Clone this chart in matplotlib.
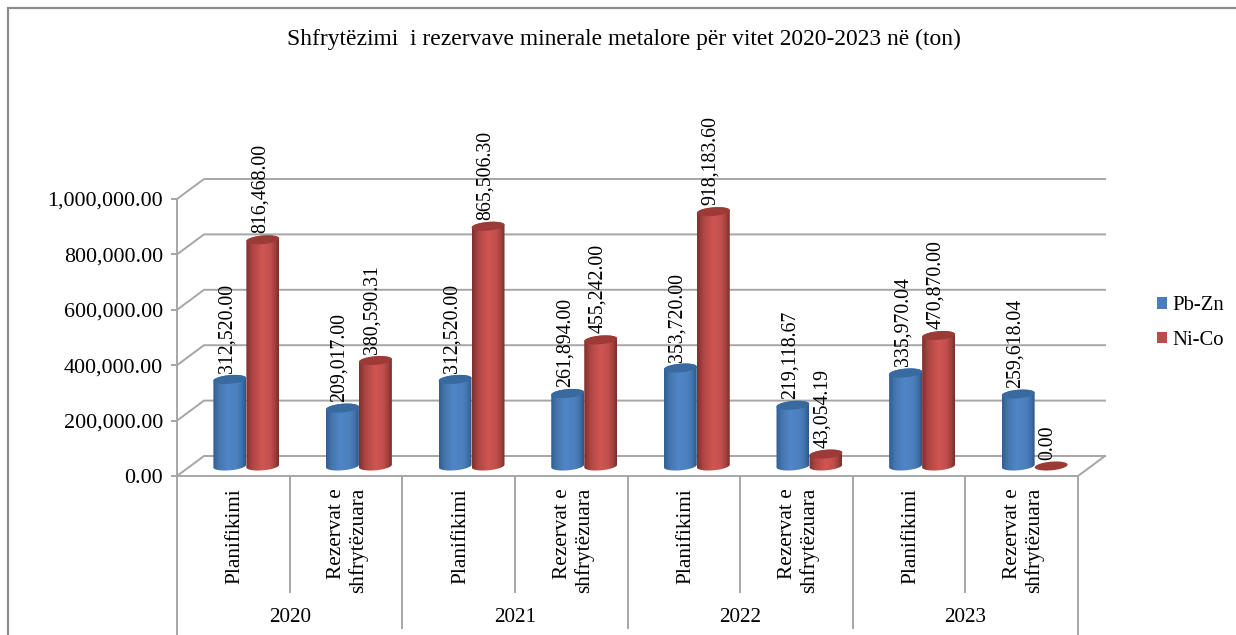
import matplotlib
matplotlib.use("Agg")
import matplotlib.pyplot as plt
import numpy as np
from matplotlib.colors import LinearSegmentedColormap
from matplotlib.patches import Patch, PathPatch
from matplotlib.path import Path

plt.rcParams['font.family'] = ['Liberation Serif', 'DejaVu Serif']

years = ["2020", "2021", "2022", "2023"]
groups = ["Planifikimi", "Rezervat e\nshfrytëzuara"] * 4
pb_zn = [312520.00, 209017.00, 312520.00, 261894.00, 353720.00, 219118.67, 335970.04, 259618.04]
ni_co = [816468.00, 380590.31, 865506.30, 455242.00, 918183.60, 43054.19, 470870.00, 0.00]
yticks = [0, 200000, 400000, 600000, 800000, 1000000]
title = "Shfrytëzimi  i rezervave minerale metalore për vitet 2020-2023 në (ton)"

W, H = 1236, 635
grid_col = "#a6a6a6"
blue_shades = [(0, "#2f5f94"), (0.18, "#4676ae"), (0.45, "#5086c6"), (0.75, "#4b7fbc"), (0.9, "#3f6ea6"), (1, "#2c5888")]
red_shades = [(0, "#7f302e"), (0.18, "#ad4542"), (0.5, "#cf5653"), (0.75, "#c24f4c"), (0.9, "#9c3f3c"), (1, "#7a2f2d")]
blue_top = "#386a9f"
red_top = "#9c3a38"

fig = plt.figure(figsize=(W / 100, H / 100), dpi=100)

# chart frame, open on the right and bottom
fig.add_artist(plt.Line2D([8 / W, 8 / W, 1], [0, 1 - 8 / H, 1 - 8 / H], transform=fig.transFigure,
                          color="#8c8c8c", lw=1.6, solid_joinstyle="miter"))

x0, x1, y0, y1 = 177, 1078, 476, 199
ax = fig.add_axes([x0 / W, 1 - y0 / H, (x1 - x0) / W, (y0 - y1) / H])
ax.patch.set_alpha(0)

# pixel sizes expressed in data units
px_x = 8 / (x1 - x0)
px_y = 1000000 / (y0 - y1)
depth_x = 27 * px_x
depth_y = 20 * px_y


def ellipse_pts(cx, cy, rx, ry, tilt, t):
    ex = rx * np.cos(t) * np.cos(tilt) - ry * np.sin(t) * np.sin(tilt)
    ey = rx * np.cos(t) * np.sin(tilt) + ry * np.sin(t) * np.cos(tilt)
    return cx + ex * px_x, cy + ey * px_y


def cylinder(center, value, shades, top_col):
    rx, ry, tilt = 16.5, 4.3, np.radians(5)
    base = 10 * px_y
    top = value + base
    if value == 0:
        tx, ty = ellipse_pts(center, base, rx, ry, tilt, np.linspace(0, 2 * np.pi, 80))
        ax.fill(tx, ty, color=top_col, lw=0, clip_on=False, zorder=3)
        return
    # body outline: lower half of the base ellipse, upper half of the top ellipse
    bx, by = ellipse_pts(center, base, rx, ry, tilt, np.linspace(np.pi, 2 * np.pi, 50))
    tx, ty = ellipse_pts(center, top, rx, ry, tilt, np.linspace(0, np.pi, 50))
    pts = np.column_stack([np.r_[bx, tx], np.r_[by, ty]])
    body = PathPatch(Path(np.vstack([pts, pts[0]]), closed=True), fc="none", ec="none", zorder=2, clip_on=False)
    ax.add_patch(body)
    cmap = LinearSegmentedColormap.from_list("shade", shades)
    img = ax.imshow(np.linspace(0, 1, 64).reshape(1, -1), cmap=cmap, aspect="auto", zorder=3,
                    extent=[center - rx * px_x, center + rx * px_x, 0, top + 8 * px_y])
    img.set_clip_path(body)
    tx, ty = ellipse_pts(center, top, rx, ry, tilt, np.linspace(0, 2 * np.pi, 80))
    ax.fill(tx, ty, color=top_col, lw=0, clip_on=False, zorder=4)


# back wall gridlines with their returns to the front plane
for v in yticks:
    ax.plot([0, depth_x, 8 + depth_x], [v, v + depth_y, v + depth_y], color=grid_col, lw=1.4,
            clip_on=False, zorder=1, solid_joinstyle="miter")
ax.plot([8, 8 + depth_x], [0, depth_y], color=grid_col, lw=1.4, clip_on=False, zorder=1)

bar_w = 33 * px_x
for i in range(8):
    c = i + 0.5 + 13 * px_x
    cylinder(c - bar_w / 2, pb_zn[i], blue_shades, blue_top)
    cylinder(c + bar_w / 2, ni_co[i], red_shades, red_top)
    for v, cx in ((pb_zn[i], c - bar_w / 2), (ni_co[i], c + bar_w / 2)):
        ax.text(cx - 3 * px_x, v + 16.5 * px_y, f"{v:,.2f}", rotation=90, ha="center", va="bottom",
                fontsize=14.3, color="black", zorder=6, clip_on=False)

ax.set_xlim(0, 8)
ax.set_ylim(0, 1000000)
ax.set_yticks(yticks, [f"{v:,.2f}" for v in yticks], fontsize=15.8)
ax.tick_params(axis="y", length=4, width=1.4, color=grid_col, pad=6)
ax.set_xticks([])
for s in ("top", "right"):
    ax.spines[s].set_visible(False)
ax.spines["left"].set_color(grid_col)
ax.spines["left"].set_linewidth(1.4)
ax.spines["bottom"].set_color(grid_col)
ax.spines["bottom"].set_linewidth(1.4)

# two-level category axis below the floor
tr = ax.get_xaxis_transform()
def below(py):
    return (y0 - py) / (y0 - y1)

for i in range(9):
    if i in (0, 8):
        end = 640
    elif i % 2 == 0:
        end = 628
    else:
        end = 592
    ax.plot([i, i], [0, below(end)], transform=tr, color=grid_col, lw=1.4, clip_on=False)
for i, g in enumerate(groups):
    xpos = i + 0.5 + 2 * px_x
    ax.text(xpos, below(488), g, transform=tr, rotation=90, ha="center", va="top", ma="right",
            fontsize=15.3, linespacing=1.15)
for i, y in enumerate(years):
    ax.text(2 * i + 1, below(617), y, transform=tr, ha="center", va="center", fontsize=15.2)

fig.text(624 / W, 1 - 39.5 / H, title, ha="center", va="center", fontsize=16.9)

handles = [Patch(fc="#4a7ebb", label="Pb-Zn"), Patch(fc="#be4b48", label="Ni-Co")]
fig.legend(handles=handles, loc="center left", bbox_to_anchor=(1157 / W, 1 - 323 / H), frameon=False,
           fontsize=14.9, handlelength=0.48, handleheight=0.48, handletextpad=0.25, labelspacing=0.75,
           borderaxespad=0, borderpad=0)

fig.savefig("out.png", dpi=100)
